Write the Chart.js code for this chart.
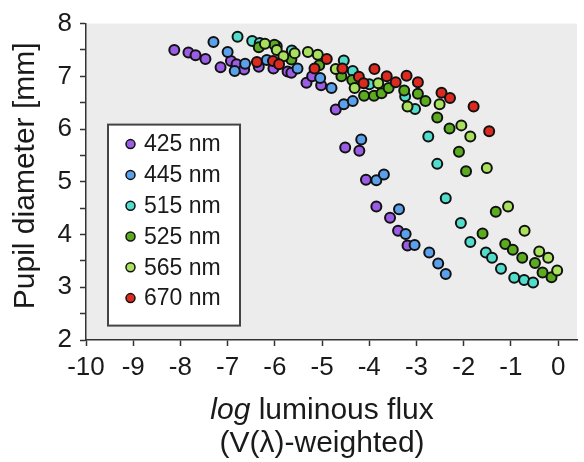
<!DOCTYPE html>
<html>
<head>
<meta charset="utf-8">
<script src="https://cdn.jsdelivr.net/npm/chart.js@4.4.0/dist/chart.umd.min.js"></script>
<style>
html, body { margin: 0; padding: 0; background: #fff; }
</style>
</head>
<body>
<canvas id="myChart" width="584" height="462"></canvas>
<script>
// wavelength series (nm)
var labels = ['425 nm', '445 nm', '515 nm', '525 nm', '565 nm', '670 nm'];
var colors = ['#9b5de5', '#5aa0ea', '#52dccb', '#5aac1e', '#a9e05c', '#dc2a1e'];

// log luminous flux (x) and pupil diameter in mm (y)
var x425 = [-8.13, -7.83, -7.68, -7.47, -7.15, -6.93, -6.81, -6.65, -6.34, -6.03, -5.73, -5.65, -5.33, -5.21, -5.02, -4.71, -4.51, -4.21, -4.07, -3.85, -3.56, -3.39, -3.19];
var y425 = [7.50, 7.45, 7.40, 7.33, 7.17, 7.29, 7.23, 7.13, 7.18, 7.15, 7.09, 7.07, 6.88, 7.00, 6.83, 6.37, 5.65, 5.59, 5.04, 4.53, 4.32, 4.07, 3.79];

var x445 = [-7.30, -7.00, -6.85, -6.63, -6.17, -5.52, -5.04, -4.80, -4.54, -4.35, -4.17, -3.85, -3.69, -3.37, -3.23, -3.04, -2.73, -2.54, -2.38];
var y445 = [7.65, 7.46, 7.10, 7.24, 7.31, 7.15, 6.97, 6.78, 6.47, 6.53, 5.80, 5.03, 5.14, 4.48, 4.01, 3.80, 3.66, 3.45, 3.25];

var x515 = [-6.79, -6.48, -6.32, -5.96, -5.64, -4.54, -4.35, -4.00, -3.24, -3.03, -2.75, -2.56, -2.38, -2.06, -1.86, -1.53, -1.40, -1.21, -0.93, -0.72, -0.53];
var y515 = [7.75, 7.67, 7.63, 7.57, 7.49, 7.30, 7.10, 6.85, 6.62, 6.38, 5.86, 5.34, 4.69, 4.22, 3.86, 3.66, 3.56, 3.35, 3.18, 3.14, 3.09];

var x525 = [-6.34, -6.01, -5.65, -5.06, -4.59, -4.36, -4.11, -3.90, -3.74, -3.59, -3.26, -2.97, -2.81, -2.56, -2.30, -2.10, -1.95, -1.32, -1.60, -1.12, -0.96, -0.76, -0.49, -0.33, -0.14];
var y525 = [7.55, 7.60, 7.32, 7.21, 7.00, 6.93, 6.63, 6.63, 6.68, 6.78, 6.73, 6.67, 6.53, 6.22, 6.01, 5.57, 5.20, 4.43, 4.02, 3.82, 3.71, 3.56, 3.46, 3.28, 3.19];

var x565 = [-6.21, -5.96, -5.82, -5.58, -5.30, -5.09, -4.71, -4.31, -3.81, -3.19, -2.51, -2.05, -1.86, -1.51, -1.06, -0.71, -0.40, -0.21, -0.02];
var y565 = [7.62, 7.50, 7.38, 7.44, 7.46, 7.41, 7.14, 6.78, 6.87, 6.43, 6.47, 6.07, 5.86, 5.26, 4.53, 4.07, 3.68, 3.56, 3.32];

var x670 = [-6.38, -6.04, -5.91, -5.16, -4.90, -4.57, -4.22, -4.12, -3.89, -3.63, -3.44, -3.21, -2.97, -2.47, -2.29, -1.79, -1.46];
var y670 = [7.27, 7.29, 7.23, 7.15, 7.33, 7.15, 6.99, 6.87, 7.14, 7.00, 6.89, 7.01, 6.89, 6.69, 6.59, 6.43, 5.96];

var xs = [x425, x445, x515, x525, x565, x670];
var ys = [y425, y445, y515, y525, y565, y670];

var FONT = '"Liberation Sans", Arial, Helvetica, sans-serif';

function pts(xa, ya) {
    return xa.map(function (v, i) { return { x: v, y: ya[i] }; });
}

var datasets = labels.map(function (lab, i) {
    return {
        label: lab,
        data: pts(xs[i], ys[i]),
        backgroundColor: colors[i],
        borderColor: '#111',
        borderWidth: 2,
        pointRadius: 5,
        pointHoverRadius: 5,
        order: labels.length - i   // later wavelengths drawn on top
    };
});

// grey plot panel, axis titles and the boxed legend
var decor = {
    id: 'decor',
    beforeDraw: function (chart) {
        var a = chart.chartArea, ctx = chart.ctx;
        ctx.save();
        ctx.fillStyle = '#ececec';
        ctx.fillRect(a.left, a.top, a.right - a.left, a.bottom - a.top);
        ctx.restore();
    },
    afterDraw: function (chart) {
        var a = chart.chartArea, ctx = chart.ctx;
        var xs_ = chart.scales.x;
        ctx.save();
        ctx.fillStyle = '#1a1a1a';

        // y title
        ctx.save();
        ctx.translate(26, (a.top + a.bottom) / 2 - 6);
        ctx.rotate(-Math.PI / 2);
        ctx.font = '30px ' + FONT;
        ctx.textAlign = 'center';
        ctx.textBaseline = 'middle';
        ctx.fillText('Pupil diameter [mm]', 0, 0);
        ctx.restore();

        // x title, two lines, "log" in italics
        var cx = xs_.getPixelForValue(-5);
        ctx.textBaseline = 'middle';
        ctx.font = 'italic 30px ' + FONT;
        var w1 = ctx.measureText('log').width;
        ctx.font = '30px ' + FONT;
        var w2 = ctx.measureText(' luminous flux').width;
        var sx = cx - (w1 + w2) / 2;
        ctx.textAlign = 'left';
        ctx.font = 'italic 30px ' + FONT;
        ctx.fillText('log', sx, 411);
        ctx.font = '30px ' + FONT;
        ctx.fillText(' luminous flux', sx + w1, 411);
        ctx.textAlign = 'center';
        ctx.fillText('(V(\u03bb)-weighted)', cx, 444);

        // legend
        var lx = a.left + 22, ly = a.top + 101, lw = 132, lh = 201;
        ctx.fillStyle = '#ffffff';
        ctx.fillRect(lx, ly, lw, lh);
        ctx.strokeStyle = '#444';
        ctx.lineWidth = 2;
        ctx.strokeRect(lx, ly, lw, lh);
        ctx.font = '23px ' + FONT;
        ctx.textAlign = 'left';
        ctx.textBaseline = 'middle';
        for (var i = 0; i < labels.length; i++) {
            var yy = ly + 19.5 + i * 30.8;
            ctx.beginPath();
            ctx.arc(lx + 22.5, yy, 4.5, 0, Math.PI * 2);
            ctx.fillStyle = colors[i];
            ctx.fill();
            ctx.lineWidth = 1.5;
            ctx.strokeStyle = '#111';
            ctx.stroke();
            ctx.fillStyle = '#1a1a1a';
            ctx.fillText(labels[i], lx + 36, yy + 1);
        }
        ctx.restore();
    }
};

var ctx = document.getElementById('myChart').getContext('2d');
var myChart = new Chart(ctx, {
    type: 'scatter',
    data: { datasets: datasets },
    options: {
        responsive: false,
        animation: false,
        devicePixelRatio: 1,
        layout: { padding: { top: 16, right: 0, left: 0, bottom: 0 } },
        plugins: {
            legend: { display: false },
            tooltip: { enabled: false }
        },
        scales: {
            x: {
                type: 'linear',
                min: -10,
                max: 0.4,
                afterFit: function (s) { s.height = 122; },
                ticks: {
                    stepSize: 1,
                    includeBounds: false,
                    autoSkip: false,
                    maxRotation: 0,
                    padding: 6,
                    color: '#1a1a1a',
                    font: { family: FONT, size: 26 }
                },
                grid: {
                    drawOnChartArea: false,
                    drawTicks: true,
                    tickLength: 6,
                    tickColor: '#333',
                    tickWidth: 1.5
                },
                border: { display: true, color: '#333', width: 1.5 }
            },
            y: {
                type: 'linear',
                min: 2,
                max: 8,
                afterFit: function (s) { s.width = 86; },
                ticks: {
                    stepSize: 0.5,
                    autoSkip: false,
                    padding: 8,
                    color: '#1a1a1a',
                    font: { family: FONT, size: 26 },
                    callback: function (v) { return Number.isInteger(v) ? v : ''; }
                },
                grid: {
                    drawOnChartArea: false,
                    drawTicks: true,
                    tickLength: 6,
                    tickColor: '#333',
                    tickWidth: 1.5
                },
                border: { display: true, color: '#333', width: 1.5 }
            }
        }
    },
    plugins: [decor]
});
</script>
</body>
</html>
